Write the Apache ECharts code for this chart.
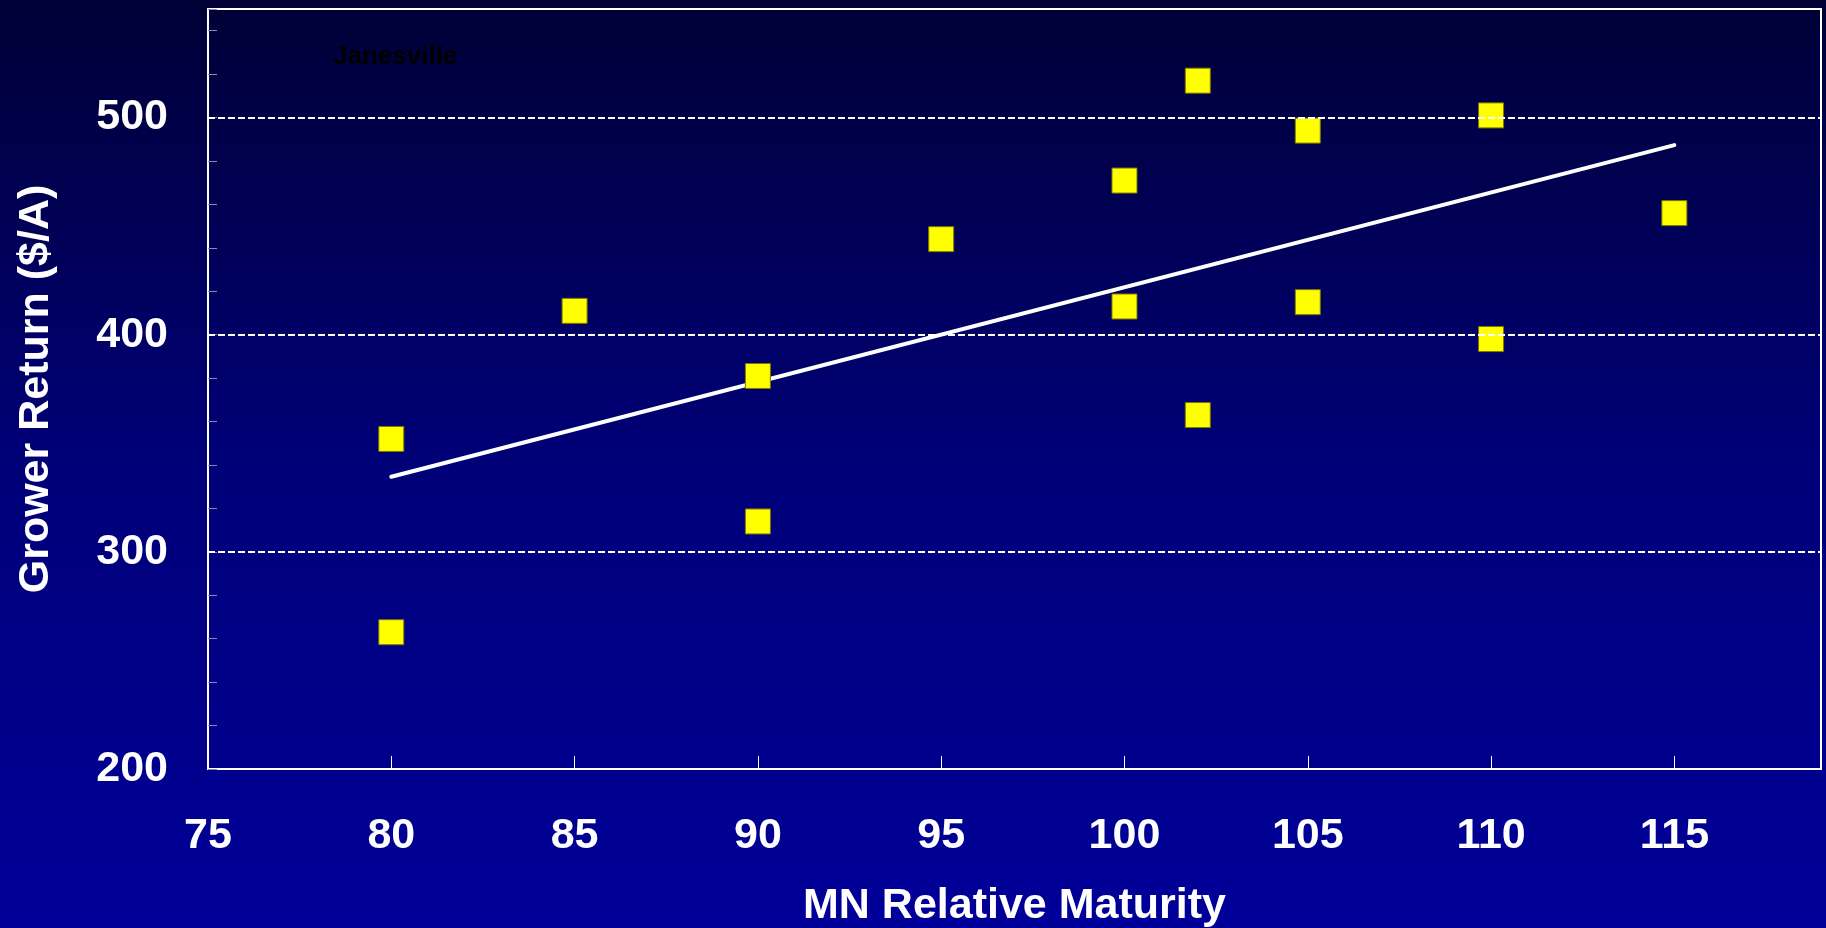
<!DOCTYPE html>
<html>
<head>
<meta charset="utf-8">
<script src="https://cdn.jsdelivr.net/npm/echarts@6/dist/echarts.min.js"></script>
<style>
html,body{margin:0;padding:0;width:1826px;height:928px;overflow:hidden;}
#chart{width:1826px;height:928px;}
</style>
</head>
<body>
<div id="chart"></div>
<script>
// Data
var maturity = [80, 80, 85, 90, 90, 95, 100, 100, 102, 102, 105, 105, 110, 110, 115];
var growerReturn = [352, 263, 411, 381, 314, 444, 471, 413, 517, 363, 494, 415, 501, 398, 456];
var trendX = [80, 115];
var trendY = [334.6, 487.3];
var gridValues = [300, 400, 500];
var yLabelValues = [200, 300, 400, 500];
var xLabelValues = [75, 80, 85, 90, 95, 100, 105, 110, 115];
var locationLabel = 'Janesville';
var xTitle = 'MN Relative Maturity';
var yTitle = 'Grower Return ($/A)';

var FONT = 'Liberation Sans, Arial, sans-serif';
var chart = echarts.init(document.getElementById('chart'), null, {renderer: 'canvas'});

var points = maturity.map(function (x, i) { return [x, growerReturn[i]]; });
var trend = trendX.map(function (x, i) { return [x, trendY[i]]; });

var option = {
  animation: false,
  backgroundColor: {
    type: 'linear', x: 0, y: 0, x2: 0, y2: 1,
    colorStops: [
      {offset: 0, color: '#000036'},
      {offset: 0.5, color: '#000078'},
      {offset: 1, color: '#000099'}
    ]
  },
  graphic: [{
    type: 'text',
    left: 333,
    top: 44,
    style: {text: locationLabel, font: 'bold 26px ' + FONT, fill: '#000000'}
  }],
  grid: {
    left: 208, right: 5, top: 9, bottom: 159,
    containLabel: false,
    outerBoundsMode: 'none',
    show: true, borderColor: '#ffffff', borderWidth: 2, backgroundColor: 'transparent'
  },
  xAxis: {
    type: 'value', min: 75, max: 119, interval: 5,
    name: xTitle, nameLocation: 'middle', nameGap: 116,
    nameTextStyle: {color: '#ffffff', fontSize: 43, fontWeight: 'bold', fontFamily: FONT},
    axisLine: {show: true, lineStyle: {color: '#ffffff', width: 2}},
    axisTick: {show: true, inside: true, length: 13, lineStyle: {color: '#ffffff', width: 1}},
    axisLabel: {
      color: '#ffffff', fontSize: 43, fontWeight: 'bold', fontFamily: FONT, margin: 46,
      formatter: function (v) { return xLabelValues.indexOf(v) >= 0 ? String(v) : ''; }
    },
    splitLine: {show: false}
  },
  yAxis: {
    type: 'value', min: 200, max: 550, interval: 20,
    name: yTitle, nameLocation: 'middle', nameGap: 150,
    nameTextStyle: {color: '#ffffff', fontSize: 43, fontWeight: 'bold', fontFamily: FONT},
    axisLine: {show: true, lineStyle: {color: '#ffffff', width: 2}},
    axisTick: {show: true, inside: true, length: 9, lineStyle: {color: '#8a8ab0', width: 1}},
    axisLabel: {
      color: '#ffffff', fontSize: 43, fontWeight: 'bold', fontFamily: FONT, margin: 40,
      padding: [4, 0, 0, 0],
      formatter: function (v) { return yLabelValues.indexOf(v) >= 0 ? String(v) : ''; }
    },
    splitLine: {show: false}
  },
  series: [
    {
      type: 'line',
      data: trend,
      showSymbol: false,
      symbol: 'none',
      lineStyle: {color: '#ffffff', width: 4, cap: 'round'},
      silent: true,
      z: 2,
      markLine: {
        silent: true,
        symbol: 'none',
        label: {show: false},
        lineStyle: {color: '#ffffff', width: 2, type: [7, 3]},
        data: gridValues.map(function (v) { return {yAxis: v}; })
      }
    },
    {
      type: 'scatter',
      data: points,
      symbol: 'rect',
      symbolSize: 25,
      itemStyle: {color: '#ffff00', borderColor: '#7a7a00', borderWidth: 1, opacity: 1},
      z: 3
    }
  ]
};
chart.setOption(option);
</script>
</body>
</html>
